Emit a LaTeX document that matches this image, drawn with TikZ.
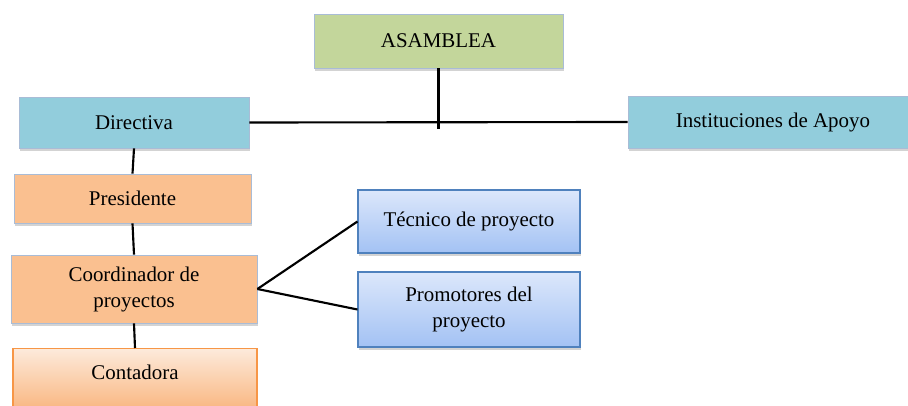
\documentclass[tikz,border=0pt]{standalone}
\usepackage{fontspec}
\setmainfont{Liberation Serif}
\usetikzlibrary{shadows}
\definecolor{asamgreen}{HTML}{C3D69B}
\definecolor{dirblue}{HTML}{92CDDC}
\definecolor{presorange}{HTML}{FAC090}
\definecolor{boxline}{HTML}{A9BCD6}
\definecolor{tectop}{HTML}{DCE7FB}
\definecolor{tecbot}{HTML}{A3C2F4}
\definecolor{tecline}{HTML}{4F81BD}
\definecolor{contop}{HTML}{FDEADB}
\definecolor{conbot}{HTML}{F8AC6E}
\definecolor{conline}{HTML}{F79646}
\begin{document}
\begin{tikzpicture}[x=0.75pt, y=-0.75pt,
    every node/.style={font=\fontsize{15.7}{19.5}\selectfont, align=center, inner sep=0pt},
    caja/.style={draw=boxline, line width=0.6pt,
      drop shadow={opacity=0.35, shadow xshift=0.9pt, shadow yshift=-2pt}},
    linea/.style={line width=1.6pt}]
  \useasboundingbox (0,0) rectangle (908,406);

  \node[caja, fill=asamgreen, minimum width=186.75pt, minimum height=40.5pt] (asamblea) at (438.5,41) {ASAMBLEA};
  \node[caja, fill=dirblue, minimum width=172.5pt, minimum height=38.25pt] (directiva) at (134,122.5) {Directiva};
  \node[caja, fill=dirblue, minimum width=217.5pt, minimum height=39pt] (apoyo) at (773,122) {Instituciones de Apoyo};
  \node[caja, fill=presorange, minimum width=177.75pt, minimum height=36.75pt] (presidente) at (132.5,198.5) {Presidente};
  \node[caja, fill=presorange, minimum width=184.5pt, minimum height=51pt] (coordinador) at (134,289) {Coordinador de\\proyectos};
  \node[caja, draw=conline, line width=1pt, top color=contop, bottom color=conbot,
        minimum width=183pt, text height=23pt, text depth=32pt, anchor=north] (contadora) at (135,348) {Contadora};
  \node[caja, draw=tecline, line width=0.8pt, top color=tectop, bottom color=tecbot,
        minimum width=166.5pt, minimum height=47.25pt] (tecnico) at (469,221.5) {Técnico de proyecto};
  \node[caja, draw=tecline, line width=0.8pt, top color=tectop, bottom color=tecbot,
        minimum width=166.5pt, minimum height=56.25pt] (promotores) at (469,309.5) {Promotores del\\proyecto};

  \coordinate (cruce) at (438.5,129);

  \draw[linea] (asamblea.south) -- (cruce);
  \draw[linea] (directiva.east) -- (apoyo.west);
  \draw[linea] (directiva.south) -- (presidente.north);
  \draw[linea] (presidente.south) -- (coordinador.north);
  \draw[linea] (coordinador.south) -- (contadora.north);
  \draw[linea] (coordinador.east) -- (tecnico.west);
  \draw[linea] (coordinador.east) -- (promotores.west);
\end{tikzpicture}
\end{document}
